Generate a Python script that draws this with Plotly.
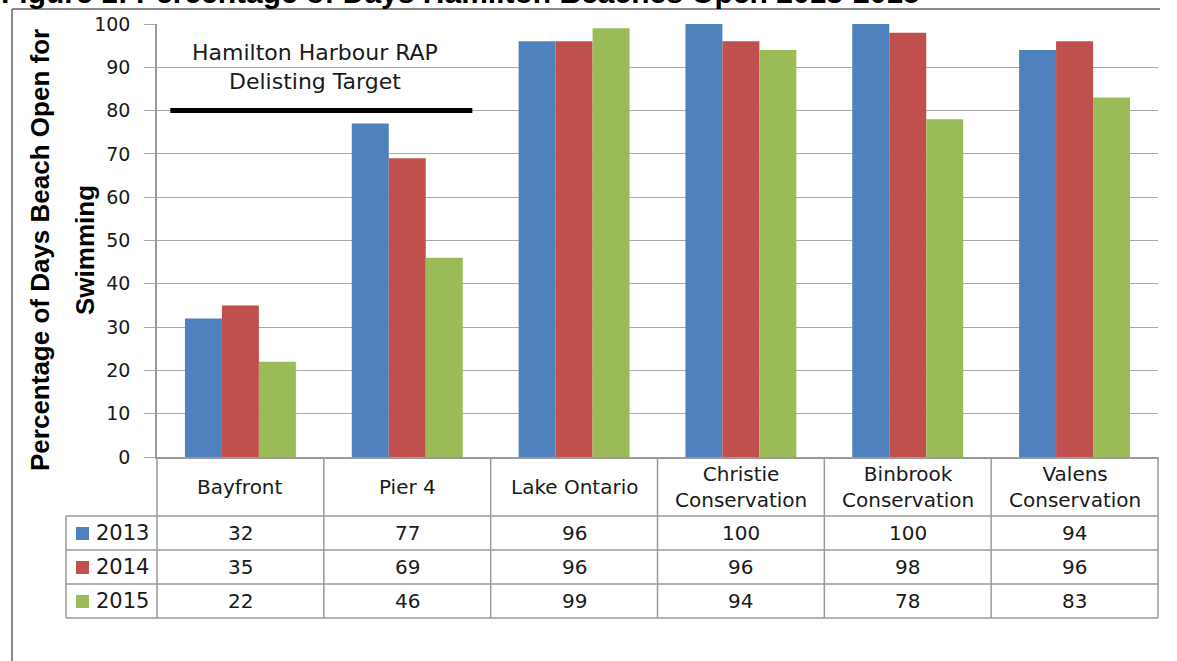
import plotly.graph_objects as go

# ---- data ----
categories = ["Bayfront", "Pier 4", "Lake Ontario", "Christie Conservation",
              "Binbrook Conservation", "Valens Conservation"]
years = ["2013", "2014", "2015"]
values_2013 = [32, 77, 96, 100, 100, 94]
values_2014 = [35, 69, 96, 96, 98, 96]
values_2015 = [22, 46, 99, 94, 78, 83]
target_value = 80
target_label = "Hamilton Harbour RAP<br>Delisting Target"
title_text = "Figure 1: Percentage of Days Hamilton Beaches Open 2013-2015"
y_title_lines = ["Percentage of Days Beach Open for", "Swimming"]

series = [values_2013, values_2014, values_2015]
colors = ["#4F81BD", "#C0504D", "#9BBB59"]

# ---- layout geometry (pixels) ----
W, H = 1177, 661
L, R, T, B = 157, 1158, 24, 457
PW, PH = R - L, B - T

def px(x):
    return (x - L) / PW

def py(y):
    return (B - y) / PH

GRID = "#A9A9A9"
TXT = "#1a1a1a"
FONT = "DejaVu Sans"
TITLE_FONT = "Liberation Sans, Arial, sans-serif"

fig = go.Figure()
for yr, vals, c in zip(years, series, colors):
    fig.add_trace(go.Bar(x=categories, y=vals, name=yr, marker=dict(color=c, line=dict(width=0)),
                         showlegend=False))

shapes = []
annotations = []

# target line
shapes.append(dict(type="line", xref="x", yref="y", x0=-0.42, x1=1.39, y0=target_value, y1=target_value,
                   line=dict(color="black", width=5), layer="above"))
annotations.append(dict(xref="x", yref="y", x=0.45, y=target_value + 10, text=target_label,
                        xanchor="center", yanchor="middle",
                        showarrow=False, font=dict(family=FONT, size=22, color=TXT), align="center"))

# table geometry
row_lines = [516, 550, 584, 618]
group_w = PW / len(categories)
tcol = "#9a9a9a"
for yl in row_lines:
    shapes.append(dict(type="line", xref="paper", yref="paper", x0=px(66), x1=px(R), y0=py(yl), y1=py(yl),
                       line=dict(color=tcol, width=1.5)))
for k in range(len(categories) + 1):
    xv = L + group_w * k
    shapes.append(dict(type="line", xref="paper", yref="paper", x0=px(xv), x1=px(xv), y0=py(B), y1=py(618),
                       line=dict(color=tcol, width=1.5)))
shapes.append(dict(type="line", xref="paper", yref="paper", x0=px(66), x1=px(66), y0=py(516), y1=py(618),
                   line=dict(color=tcol, width=1.5)))

# header texts
for i, cat in enumerate(categories):
    label = cat.replace(" Conservation", "<br>Conservation")
    annotations.append(dict(xref="x", yref="paper", x=i, y=py(487), text=label, showarrow=False,
                            xanchor="center", yanchor="middle",
                            font=dict(family=FONT, size=20, color=TXT), align="center"))
# row values + legend keys
row_centers = [533, 567, 601]
for r, (yr, vals, c) in enumerate(zip(years, series, colors)):
    yc = row_centers[r]
    shapes.append(dict(type="rect", xref="paper", yref="paper", x0=px(76), x1=px(89),
                       y0=py(yc - 6), y1=py(yc + 7), fillcolor=c, line=dict(width=0)))
    annotations.append(dict(xref="paper", yref="paper", x=px(94), y=py(yc), text=yr, showarrow=False,
                            xanchor="left", yanchor="middle", font=dict(family=FONT, size=21, color=TXT)))
    for i, v in enumerate(vals):
        annotations.append(dict(xref="x", yref="paper", x=i, y=py(yc), text=str(v), showarrow=False,
                                xanchor="center", yanchor="middle",
                                font=dict(family=FONT, size=20, color=TXT)))

# y-axis title (two lines)
for xc, line in zip([40, 85], y_title_lines):
    annotations.append(dict(xref="paper", yref="paper", x=px(xc), y=py(250), text=line,
                            textangle=-90, showarrow=False, xanchor="center", yanchor="middle",
                            font=dict(family=TITLE_FONT, size=26, color="black", weight="bold")))

# title (cut off at top)
annotations.append(dict(xref="paper", yref="paper", x=px(-1), y=py(11), xanchor="left", yanchor="bottom",
                        text="<b>" + title_text + "</b>", showarrow=False,
                        font=dict(family="Liberation Sans, Arial, sans-serif", size=30, color="black")))

# outer frame
shapes.append(dict(type="line", xref="paper", yref="paper", x0=px(12), x1=px(1160), y0=py(9), y1=py(9),
                   line=dict(color="#8a8a8a", width=2)))
shapes.append(dict(type="line", xref="paper", yref="paper", x0=px(12), x1=px(12), y0=py(9), y1=py(665),
                   line=dict(color="#8a8a8a", width=2)))

fig.update_layout(
    width=W, height=H, autosize=False,
    margin=dict(l=L, r=W - R, t=T, b=H - B, pad=0),
    paper_bgcolor="white", plot_bgcolor="white",
    barmode="group", bargap=0.335, bargroupgap=0,
    shapes=shapes, annotations=annotations,
    xaxis=dict(range=[-0.5, len(categories) - 0.5], showticklabels=False, ticks="",
               showline=True, linecolor=tcol, linewidth=1.5, showgrid=False, zeroline=False, fixedrange=True),
    yaxis=dict(range=[0, 100], dtick=10, showgrid=True, gridcolor=GRID, gridwidth=1,
               showline=True, linecolor=tcol, linewidth=1.5, ticks="outside", ticklen=11, tickcolor=GRID,
               ticklabelstandoff=10,
               tickfont=dict(family=FONT, size=19, color=TXT), zeroline=False, fixedrange=True),
)

fig.write_html("out.html", config={"displayModeBar": False},
               post_script="document.body.style.margin='0';document.body.style.overflow='hidden';")
